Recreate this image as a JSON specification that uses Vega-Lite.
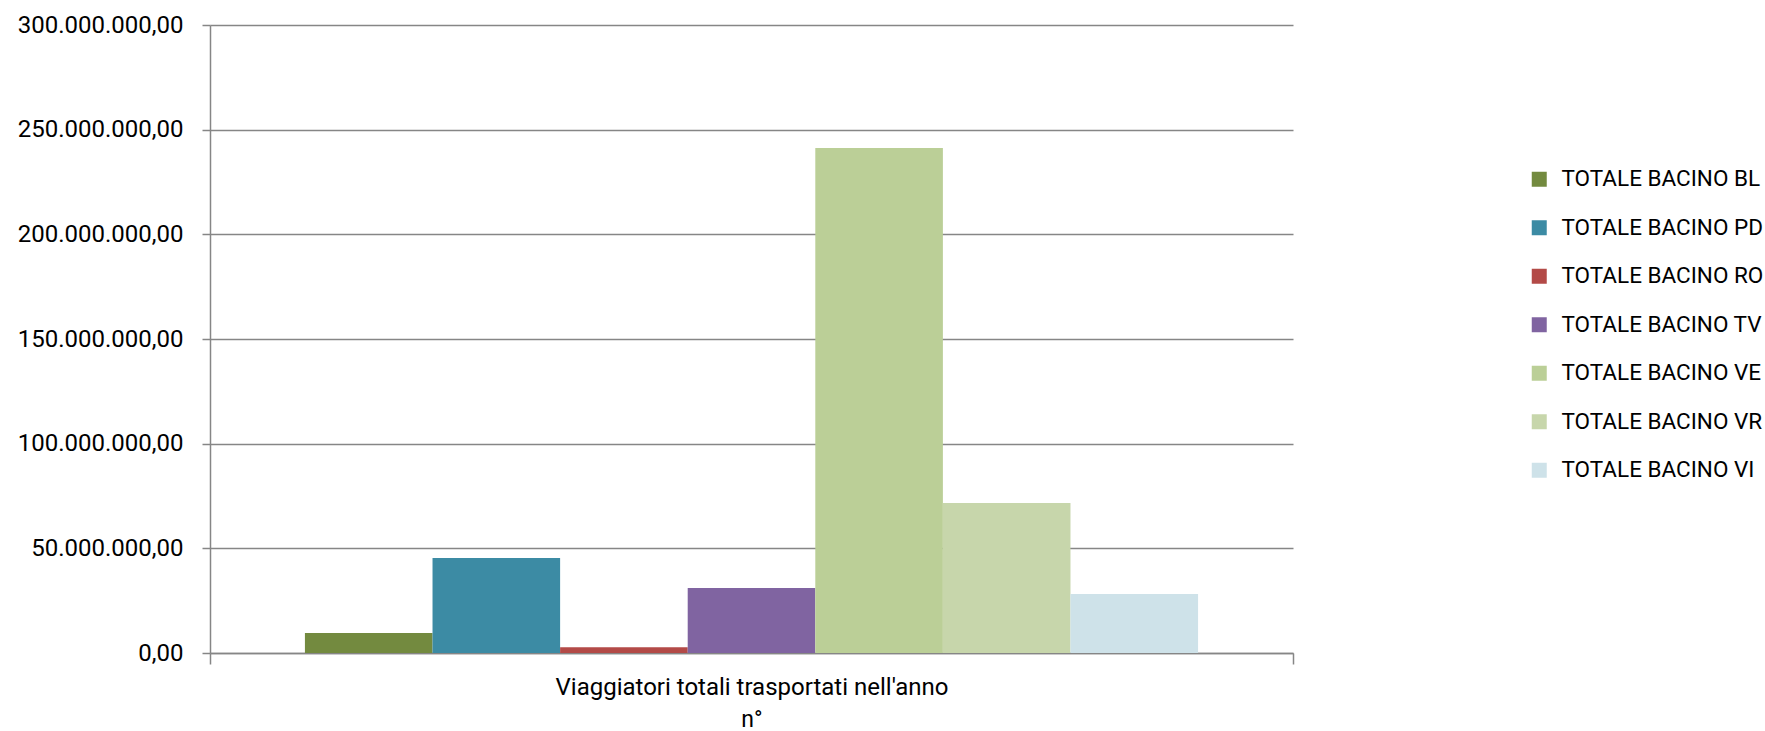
{
  "$schema": "https://vega.github.io/schema/vega-lite/v6.json",
  "width": 1083,
  "height": 628,
  "autosize": {"type": "none"},
  "padding": {"left": 210, "top": 25, "right": 472, "bottom": 78},
  "background": "white",
  "data": {
    "values": [
      {"cat": "Viaggiatori totali trasportati nell'anno", "serie": "TOTALE BACINO BL", "value": 9560000},
      {"cat": "Viaggiatori totali trasportati nell'anno", "serie": "TOTALE BACINO PD", "value": 45400000},
      {"cat": "Viaggiatori totali trasportati nell'anno", "serie": "TOTALE BACINO RO", "value": 2730000},
      {"cat": "Viaggiatori totali trasportati nell'anno", "serie": "TOTALE BACINO TV", "value": 31060000},
      {"cat": "Viaggiatori totali trasportati nell'anno", "serie": "TOTALE BACINO VE", "value": 241300000},
      {"cat": "Viaggiatori totali trasportati nell'anno", "serie": "TOTALE BACINO VR", "value": 71700000},
      {"cat": "Viaggiatori totali trasportati nell'anno", "serie": "TOTALE BACINO VI", "value": 28200000}
    ]
  },
  "mark": {"type": "bar"},
  "encoding": {
    "x": {
      "field": "cat",
      "type": "nominal",
      "scale": {"paddingInner": 0, "paddingOuter": 0},
      "axis": {
        "title": "n°",
        "labelAngle": 0,
        "labelLimit": 900,
        "tickBand": "extent",
        "tickSize": 11,
        "tickColor": "#868686",
        "tickWidth": 1.5,
        "domainColor": "#868686",
        "domainWidth": 1.5,
        "labelFont": "Roboto",
        "labelFontSize": 24,
        "labelColor": "#000000",
        "labelPadding": 11,
        "titleFont": "Roboto",
        "titleFontSize": 23,
        "titleFontWeight": "normal",
        "titleColor": "#000000",
        "titlePadding": 9
      }
    },
    "xOffset": {
      "field": "serie",
      "type": "nominal",
      "sort": ["TOTALE BACINO BL", "TOTALE BACINO PD", "TOTALE BACINO RO", "TOTALE BACINO TV", "TOTALE BACINO VE", "TOTALE BACINO VR", "TOTALE BACINO VI"],
      "scale": {"paddingInner": 0, "paddingOuter": 0.744}
    },
    "y": {
      "field": "value",
      "type": "quantitative",
      "scale": {"domain": [0, 300000000], "nice": false},
      "axis": {
        "title": null,
        "values": [0, 50000000, 100000000, 150000000, 200000000, 250000000, 300000000],
        "format": ",.2f",
        "grid": true,
        "gridColor": "#868686",
        "gridWidth": 1.5,
        "tickSize": 8,
        "tickColor": "#868686",
        "tickWidth": 1.5,
        "domainColor": "#868686",
        "domainWidth": 1.5,
        "labelFont": "Roboto",
        "labelFontSize": 24,
        "labelColor": "#000000",
        "labelPadding": 19
      }
    },
    "color": {
      "field": "serie",
      "type": "nominal",
      "sort": ["TOTALE BACINO BL", "TOTALE BACINO PD", "TOTALE BACINO RO", "TOTALE BACINO TV", "TOTALE BACINO VE", "TOTALE BACINO VR", "TOTALE BACINO VI"],
      "scale": {
        "domain": ["TOTALE BACINO BL", "TOTALE BACINO PD", "TOTALE BACINO RO", "TOTALE BACINO TV", "TOTALE BACINO VE", "TOTALE BACINO VR", "TOTALE BACINO VI"],
        "range": ["#738A3F", "#3C8BA4", "#B34A47", "#8064A1", "#BBCF97", "#C7D6AB", "#CEE2E9"]
      },
      "legend": {
        "title": null,
        "orient": "none",
        "legendX": 1318,
        "legendY": 143,
        "padding": 0,
        "symbolType": "square",
        "symbolSize": 225,
        "symbolStrokeWidth": 0,
        "symbolOpacity": 1,
        "labelFont": "Roboto",
        "labelFontSize": 22.5,
        "labelColor": "#000000",
        "labelOffset": 11,
        "rowPadding": 25.5,
        "labelLimit": 400
      }
    }
  },
  "config": {
    "view": {"stroke": null},
    "locale": {
      "number": {"decimal": ",", "thousands": ".", "grouping": [3], "currency": ["", " €"]}
    }
  }
}
